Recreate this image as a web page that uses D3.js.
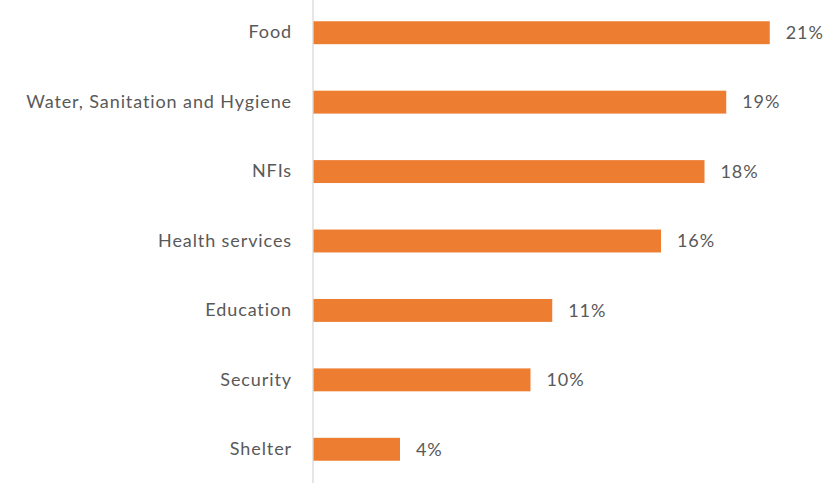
<!DOCTYPE html>
<html>
<head>
<meta charset="utf-8">
<script src="https://cdn.jsdelivr.net/npm/d3@7"></script>
<style>
  html, body { margin: 0; padding: 0; background: #ffffff; }
  svg { display: block; }
</style>
</head>
<body>
<svg id="chart" width="837" height="491"></svg>
<script>
// Share of respondents citing each need (%)
const categories = ["Food", "Water, Sanitation and Hygiene", "NFIs", "Health services", "Education", "Security", "Shelter"];
const values = [21, 19, 18, 16, 11, 10, 4];
const valueLabels = ["21%", "19%", "18%", "16%", "11%", "10%", "4%"];

const width = 837, height = 491;
const axisX = 313;
const svg = d3.select("#chart");

const x = d3.scaleLinear().domain([0, 25]).range([axisX, axisX + 25 * 21.75]);
const y = d3.scaleBand().domain(categories).range([-2, 484]).paddingInner(0.67).paddingOuter(0.335);

const fontFamily = "Lato, 'Open Sans', sans-serif";
const fontSize = "18px";
const spacing = "0.9px";
const textColor = "#595959";

// Bars
svg.append("g").selectAll("rect")
  .data(categories)
  .join("rect")
  .attr("x", x(0))
  .attr("y", d => y(d))
  .attr("width", (d, i) => x(values[i]) - x(0))
  .attr("height", y.bandwidth())
  .attr("fill", "#ed7d31");

// Category axis (vertical line, no ticks)
const yAxis = d3.axisLeft(y).tickSize(0).tickPadding(21);
const gAxis = svg.append("g").attr("transform", `translate(${axisX},0)`).call(yAxis);
gAxis.select(".domain").attr("stroke", "#d9d9d9").attr("stroke-width", 1.3)
  .attr("d", `M0,${y.range()[0]}V${y.range()[1] - 1}`);
gAxis.selectAll("text")
  .attr("font-family", fontFamily)
  .attr("font-size", fontSize)
  .attr("letter-spacing", spacing)
  .attr("fill", textColor);

// Value labels
svg.append("g").selectAll("text")
  .data(categories)
  .join("text")
  .attr("x", (d, i) => x(values[i]) + 16)
  .attr("y", d => y(d) + y.bandwidth() / 2)
  .attr("dy", "0.35em")
  .attr("font-family", fontFamily)
  .attr("font-size", fontSize)
  .attr("letter-spacing", spacing)
  .attr("fill", textColor)
  .text((d, i) => valueLabels[i]);
</script>
</body>
</html>
